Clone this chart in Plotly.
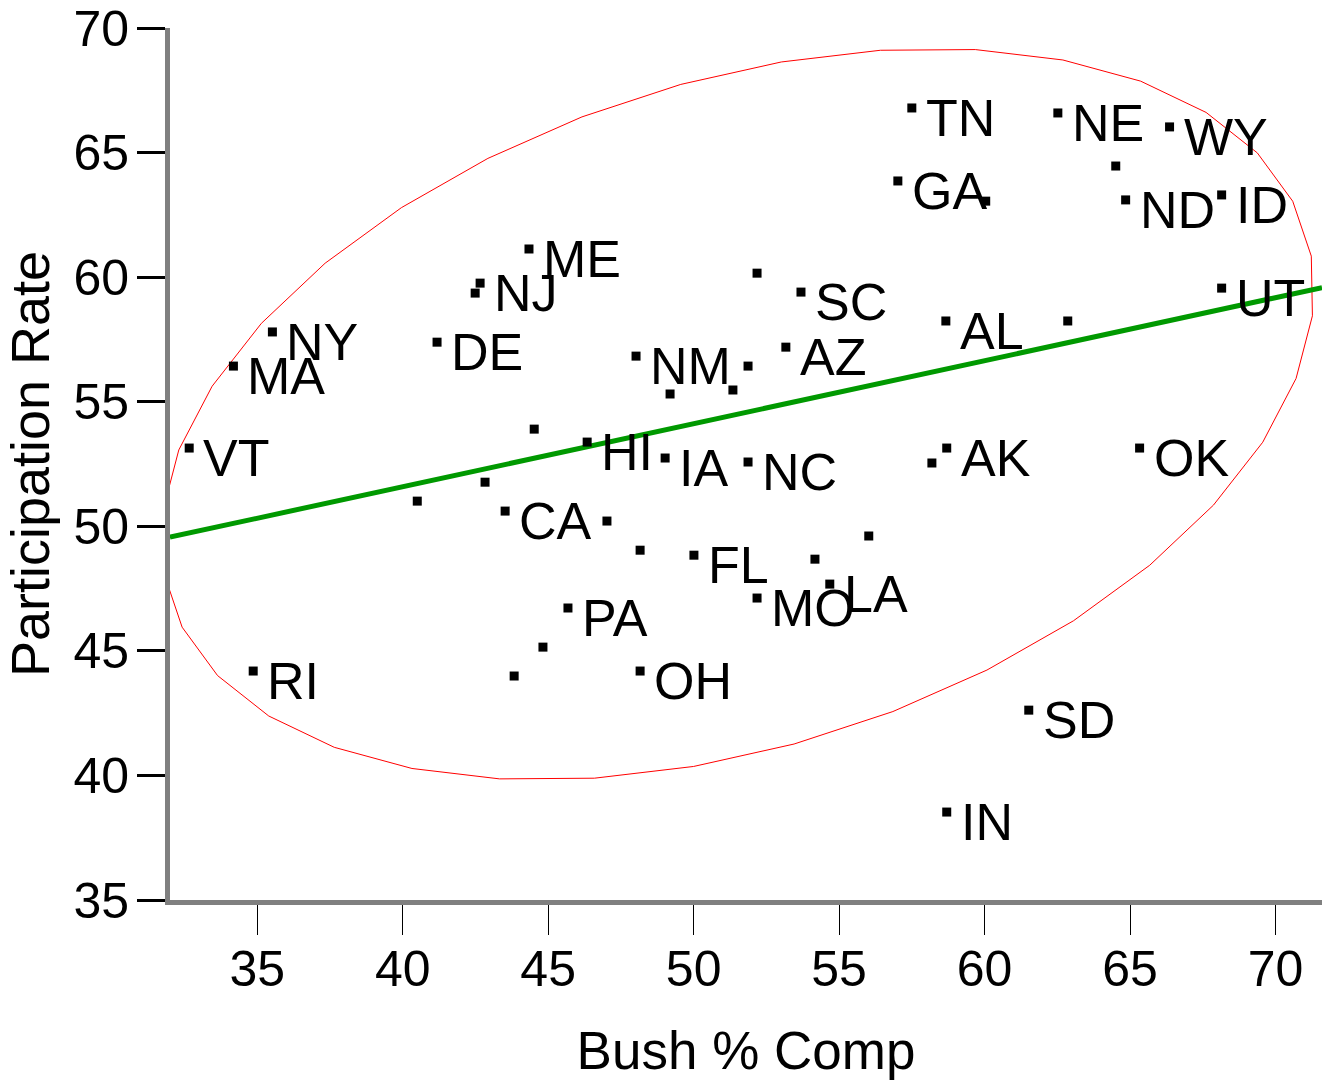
import numpy as np
import plotly.graph_objects as go

# State labels ("" = unlabeled point)
states = ["TN", "NE", "WY", "GA", "ND", "ID", "ME", "NJ", "SC", "UT", "AL",
          "NY", "MA", "DE", "AZ", "NM", "HI", "IA", "NC", "AK", "OK", "VT",
          "CA", "FL", "LA", "MO", "PA", "OH", "RI", "SD", "IN",
          "", "", "", "", "", "", "", "", "", "", "", "", "", "", "", "", "", ""]

bush_pct = [57.50, 62.52, 66.36, 57.02, 64.85, 68.15, 44.34, 42.66, 53.69, 68.15, 58.67,
            35.52, 34.18, 41.18, 53.17, 48.02, 46.34, 49.02, 51.87, 58.70, 65.33, 32.66,
            43.52, 50.01, 54.68, 52.18, 45.68, 48.16, 34.86, 61.52, 58.70,
            64.51, 60.04, 42.49, 52.18, 62.86, 51.87, 49.19, 51.35, 44.52, 58.19,
            42.83, 40.50, 47.02, 48.16, 56.02, 54.17, 44.82, 43.83]

participation = [66.79, 66.59, 66.03, 63.86, 63.10, 63.30, 61.13, 59.76, 59.40, 59.56, 58.24,
                 57.80, 56.43, 57.39, 57.19, 56.83, 53.38, 52.74, 52.58, 53.14, 53.14, 53.14,
                 50.61, 48.84, 47.68, 47.12, 46.72, 44.19, 44.19, 42.62, 38.53,
                 64.46, 63.05, 59.36, 60.16, 58.24, 56.43, 55.31, 55.47, 53.90, 52.54,
                 51.77, 51.01, 50.21, 49.04, 49.61, 48.68, 45.15, 43.99]

x_ticks = [35, 40, 45, 50, 55, 60, 65, 70]
y_ticks = [35, 40, 45, 50, 55, 60, 65, 70]
x_range = [32.0, 71.6]
y_range = [35, 70]
ellipse_level = 0.90

FONT = "Liberation Sans, Arial, sans-serif"

x = np.array(bush_pct)
y = np.array(participation)

# Linear fit
slope, intercept = np.polyfit(x, y, 1)
fit_x = np.array(x_range)
fit_y = intercept + slope * fit_x

# Bivariate normal density ellipse
mean = np.array([x.mean(), y.mean()])
cov = np.cov(np.vstack([x, y]))
evals, evecs = np.linalg.eigh(cov)
k = np.sqrt(-2 * np.log(1 - ellipse_level))
t = np.linspace(0, 2 * np.pi, 37)
circle = np.vstack([np.cos(t), np.sin(t)])
ell = mean[:, None] + evecs @ (k * np.sqrt(evals)[:, None] * circle)

fig = go.Figure()
fig.add_trace(go.Scatter(x=ell[0], y=ell[1], mode="lines",
                         line=dict(color="red", width=1), hoverinfo="skip"))
fig.add_trace(go.Scatter(x=fit_x, y=fit_y, mode="lines",
                         line=dict(color="#009900", width=5), hoverinfo="skip"))
fig.add_trace(go.Scatter(x=x, y=y, mode="markers",
                         marker=dict(symbol="square", size=9, color="black", line=dict(width=0))))

for s, xi, yi in zip(states, bush_pct, participation):
    if s:
        fig.add_annotation(x=xi, y=yi, text=s, showarrow=False, xanchor="left", yanchor="middle",
                           xshift=12, yshift=-10, font=dict(family=FONT, size=52, color="black"))

fig.update_layout(
    width=1322, height=1080,
    margin=dict(l=170, r=0, t=28, b=180),
    plot_bgcolor="white", paper_bgcolor="white",
    showlegend=False,
    font=dict(family=FONT, color="black"),
    xaxis=dict(range=x_range, tickvals=x_ticks, showgrid=False, zeroline=False,
               showline=True, linecolor="#808080", linewidth=5,
               ticks="outside", ticklen=30, tickwidth=1, tickcolor="black",
               tickfont=dict(size=50, family=FONT), ticklabelstandoff=-9,
               title=dict(text="Bush % Comp", font=dict(size=53, family=FONT), standoff=40)),
    yaxis=dict(range=y_range, tickvals=y_ticks, showgrid=False, zeroline=False,
               showline=True, linecolor="#808080", linewidth=5,
               ticks="outside", ticklen=28, tickwidth=3, tickcolor="black",
               tickfont=dict(size=50, family=FONT), ticklabelstandoff=-2,
               title=dict(text="Participation Rate", font=dict(size=54, family=FONT), standoff=8)),
)

fig.write_html("out.html")
